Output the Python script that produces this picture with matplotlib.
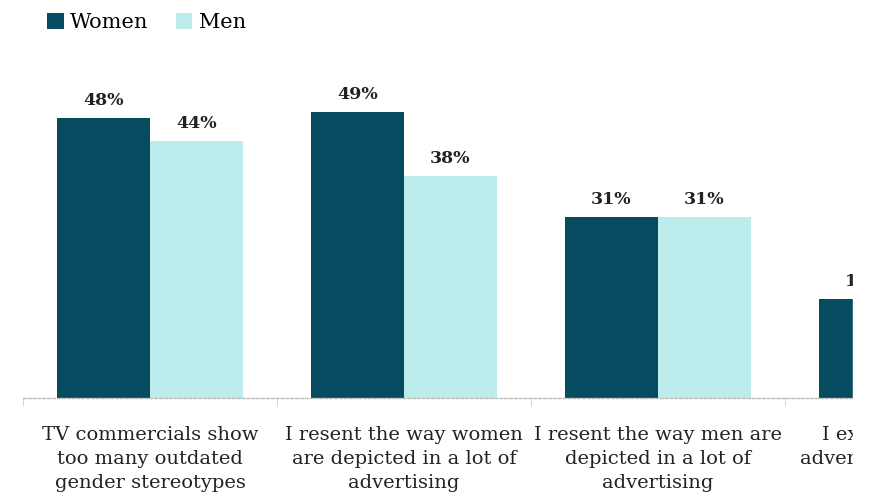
import numpy as np
import matplotlib.pyplot as plt
from matplotlib.patches import Rectangle

plt.rcParams['font.family'] = ['DejaVu Serif']

categories = [
    "TV commercials show\ntoo many outdated\ngender stereotypes",
    "I resent the way women\nare depicted in a lot of\nadvertising",
    "I resent the way men are\ndepicted in a lot of\nadvertising",
    "I expect brands to\nadvertise more gender\nsensitively",
]
women = [48, 49, 31, 17]
men = [44, 38, 31, 14]

WOMEN_COLOR = "#064b60"
MEN_COLOR = "#bdeced"

W, H = 869, 499
fig = plt.figure(figsize=(W / 100, H / 100), dpi=100)

# axes runs past the right edge of the picture (the original is cropped)
left_px, base_px, group_px = 23, 398, 254
ax = fig.add_axes([left_px / W, (H - base_px) / H, 4 * group_px / W, 350 / H])

x = np.arange(len(categories))
bw = 0.366
ax.bar(x - bw / 2, women, width=bw, color=WOMEN_COLOR, label="Women")
ax.bar(x + bw / 2, men, width=bw, color=MEN_COLOR, label="Men")

for i in range(len(categories)):
    ax.text(x[i] - bw / 2, women[i] + 1.6, f"{women[i]}%", ha="center", va="bottom",
            fontsize=12.5, fontweight="bold", color="#222222")
    if i < 3:
        ax.text(x[i] + bw / 2, men[i] + 1.6, f"{men[i]}%", ha="center", va="bottom",
                fontsize=12.5, fontweight="bold", color="#222222")

ax.set_xlim(-0.5, 3.5)
ax.set_ylim(0, 60)
ax.set_yticks([])
for s in ["top", "right", "left"]:
    ax.spines[s].set_visible(False)
ax.spines["bottom"].set_color("#bbbbbb")
ax.spines["bottom"].set_linestyle((0, (2, 1.5)))
ax.spines["bottom"].set_linewidth(1)

ax.set_xticks(x)
ax.set_xticklabels(categories, fontsize=14, color="#222222", linespacing=1.42)
ax.tick_params(axis="x", which="major", length=0, pad=20)
ax.set_xticks(np.arange(-0.5, 4, 1), minor=True)
ax.tick_params(axis="x", which="minor", length=6, color="#cccccc")

fig.legend(loc="upper left", bbox_to_anchor=(0.033, 1.012), ncol=2, frameon=False,
           fontsize=15, handlelength=0.8, handleheight=0.8, handletextpad=0.3,
           columnspacing=1.3)

# white strip at the right, where the original is cut off
fig.add_artist(Rectangle((853 / W, 0), 1, 1, transform=fig.transFigure,
                         color="white", zorder=10))

fig.savefig("out.png", dpi=100)
